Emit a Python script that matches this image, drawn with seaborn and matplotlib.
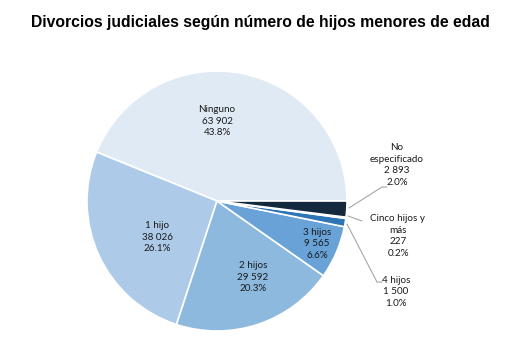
import matplotlib
matplotlib.use("Agg")
import matplotlib.pyplot as plt
import seaborn as sns

sns.set_theme(style="white")
plt.rcParams["font.family"] = ["Lato", "DejaVu Sans"]

categories = ["Ninguno", "1 hijo", "2 hijos", "3 hijos", "4 hijos",
              "Cinco hijos y\nmás", "No\nespecificado"]
counts = [63902, 38026, 29592, 9565, 1500, 227, 2893]
shares = ["43.8%", "26.1%", "20.3%", "6.6%", "1.0%", "0.2%", "2.0%"]
colors = ["#dfeaf5", "#adcbe8", "#8db9df", "#68a2d6", "#2e75b6",
          "#1f5b93", "#14283e"]

W, H = 520, 348
fig = plt.figure(figsize=(W / 100, H / 100), dpi=100)
ax = fig.add_axes([0, 0, 1, 1])

cx, cy, r = 217, H - 201, 130
ax.pie(counts, colors=colors, startangle=0, counterclock=True,
       center=(cx, cy), radius=r,
       wedgeprops=dict(edgecolor="white", linewidth=1.2))
ax.set_xlim(0, W)
ax.set_ylim(0, H)
ax.set_aspect("equal")
ax.axis("off")


def fmt(n):
    return f"{n:,}".replace(",", " ")


def lbl(i):
    return f"{categories[i]}\n{fmt(counts[i])}\n{shares[i]}"


# labels inside the larger slices, outside for the thin ones
inside = {0: (217, 121), 1: (157, 237), 2: (253, 277), 3: (317, 244)}
outside = {6: (397, 165), 5: (398, 236), 4: (396, 292)}
for i, (x, y) in {**inside, **outside}.items():
    ax.text(x, H - y, lbl(i), ha="center", va="center", fontsize=7.1,
            color="#1a1a1a", linespacing=1.42)

# leader lines for the outside labels
leaders = [
    [(349, 208), (382, 187), (387, 187)],
    [(348, 216), (362, 221)],
    [(347, 224), (377, 282), (382, 282)],
]
for pts in leaders:
    xs = [p[0] for p in pts]
    ys = [H - p[1] for p in pts]
    ax.plot(xs, ys, color="#a6a6a6", lw=0.8)

fig.text(0.5, 1 - 22 / H, "Divorcios judiciales según número de hijos menores de edad",
         ha="center", va="center", fontsize=11.3, fontweight="bold",
         family=["Liberation Sans", "DejaVu Sans"], color="#000000")

fig.savefig("out.png", dpi=100, facecolor="white")
